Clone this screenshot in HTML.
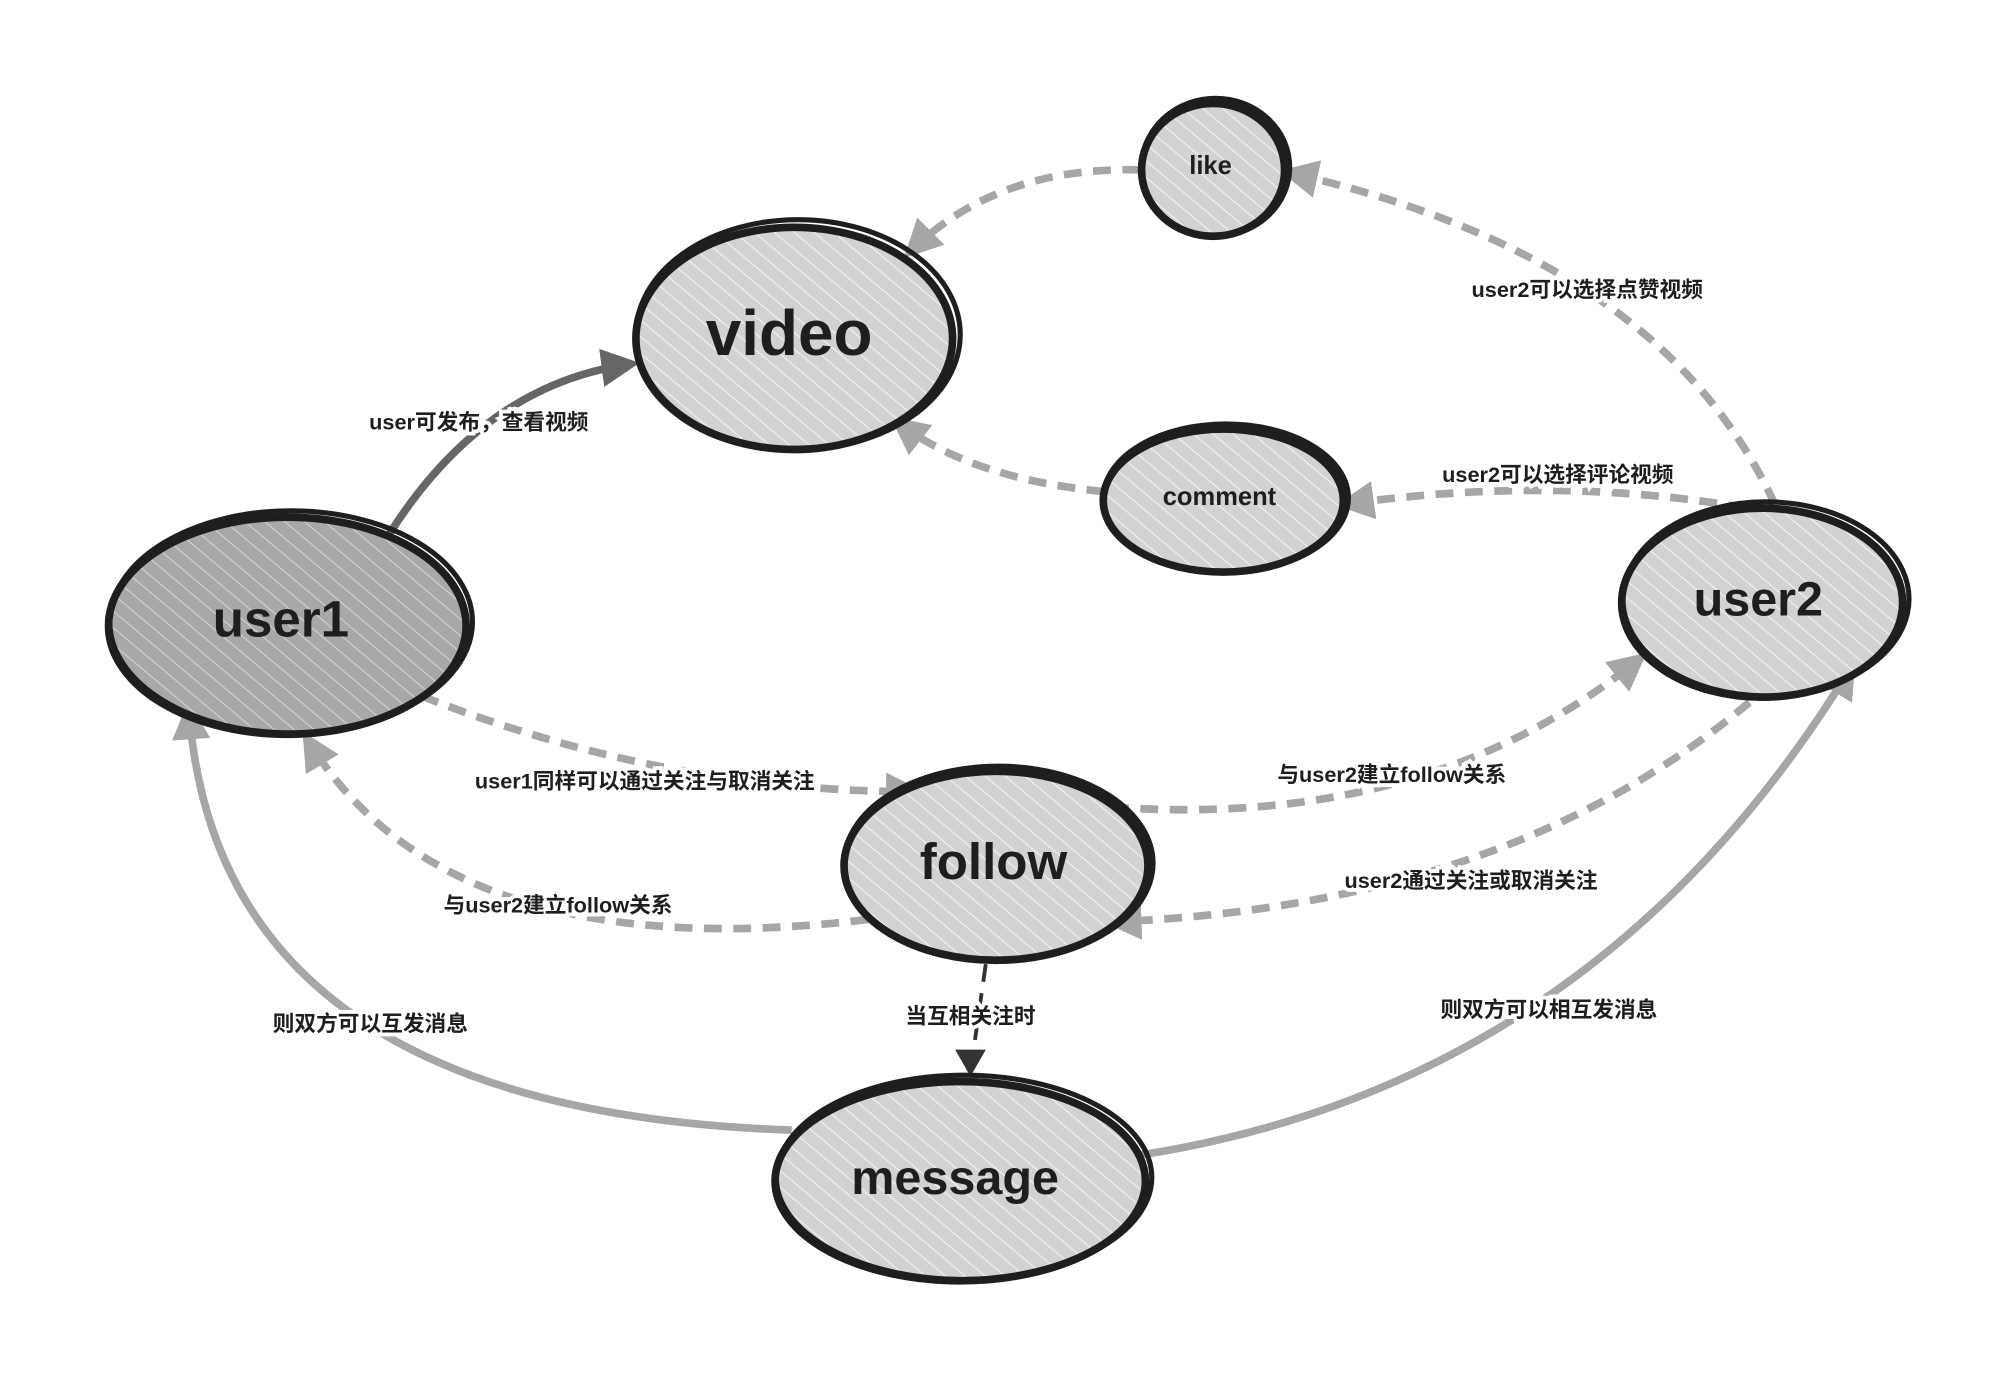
<!DOCTYPE html>
<html><head><meta charset="utf-8"><style>
html,body{margin:0;padding:0;background:#fff;}
svg{display:block}
text{font-family:"Liberation Sans","Noto Sans CJK SC",sans-serif;font-weight:bold;fill:#1e1e1e;text-anchor:middle;dominant-baseline:middle}
.lbl{font-size:17px;paint-order:stroke;stroke:#fff;stroke-width:6px}
</style></head><body>
<svg width="1992" height="1374" viewBox="0 0 1560 1076" preserveAspectRatio="none" xmlns="http://www.w3.org/2000/svg">
<defs>
<pattern id="h" width="10" height="10" patternUnits="userSpaceOnUse" patternTransform="rotate(-50)">
<rect width="10" height="10" fill="#d2d2d2"/><line x1="0" y1="0" x2="0" y2="10" stroke="#fff" stroke-width="1.5" opacity=".8"/></pattern>
<pattern id="hd" width="10" height="10" patternUnits="userSpaceOnUse" patternTransform="rotate(-50)">
<rect width="10" height="10" fill="#a8a8a8"/><line x1="0" y1="0" x2="0" y2="10" stroke="#d8d8d8" stroke-width="1.5"/></pattern>
<marker id="a1" viewBox="0 0 10 10" refX="8" refY="5" markerWidth="5" markerHeight="5" orient="auto"><path d="M0,0L10,5L0,10z" fill="#a6a6a6"/></marker>
<marker id="a2" viewBox="0 0 10 10" refX="8" refY="5" markerWidth="5" markerHeight="5" orient="auto"><path d="M0,0L10,5L0,10z" fill="#666"/></marker>
</defs>
<g fill="none" stroke-width="6">
<path d="M305,418 Q380,300 495,285" stroke="#666" marker-end="url(#a2)"/>
<g stroke="#a6a6a6" stroke-dasharray="14,9">
<path d="M893,133 Q780,130 712,198" marker-end="url(#a1)"/>
<path d="M1390,395 Q1300,200 1008,135" marker-end="url(#a1)"/>
<path d="M865,385 Q760,375 702,330" marker-end="url(#a1)"/>
<path d="M1390,402 Q1230,370 1052,395" marker-end="url(#a1)"/>
<path d="M330,545 Q520,620 718,620" marker-end="url(#a1)"/>
<path d="M680,720 Q350,760 240,578" marker-end="url(#a1)"/>
<path d="M870,632 Q1120,650 1285,515" marker-end="url(#a1)"/>
<path d="M1370,550 Q1180,710 870,722" marker-end="url(#a1)"/>
<path d="M772,755 L762,825" stroke="#333" stroke-width="3"/>
</g>
<path d="M748,822 L772,822 L760,843 z" fill="#333"/>
<g stroke="#a6a6a6">
<path d="M620,885 Q170,870 148,555" marker-end="url(#a1)"/>
<path d="M890,905 Q1250,850 1450,522" marker-end="url(#a1)"/>
</g>
</g>
<g stroke="#1e1e1e" stroke-width="6">
<ellipse cx="622" cy="265" rx="124" ry="87" fill="url(#h)"/>
<ellipse cx="950" cy="133" rx="56" ry="52" fill="url(#h)"/>
<ellipse cx="958" cy="392" rx="94" ry="56" fill="url(#h)"/>
<ellipse cx="225" cy="490" rx="140" ry="85" fill="url(#hd)"/>
<ellipse cx="1380" cy="472" rx="110" ry="74" fill="url(#h)"/>
<ellipse cx="780" cy="678" rx="119" ry="74" fill="url(#h)"/>
<ellipse cx="752" cy="925" rx="145" ry="78" fill="url(#h)"/>
</g>
<g fill="none" stroke="#1e1e1e" stroke-width="4">
<ellipse cx="625" cy="262" rx="127" ry="90"/>
<ellipse cx="952" cy="131" rx="58" ry="54"/>
<ellipse cx="960" cy="390" rx="96" ry="58"/>
<ellipse cx="228" cy="487" rx="142" ry="87"/>
<ellipse cx="1383" cy="469" rx="112" ry="76"/>
<ellipse cx="782" cy="676" rx="121" ry="76"/>
<ellipse cx="755" cy="922" rx="147" ry="80"/>
</g>
<text x="618" y="265" font-size="50">video</text>
<text x="948" y="131" font-size="20">like</text>
<text x="955" y="390" font-size="20">comment</text>
<text x="220" y="488" font-size="40">user1</text>
<text x="1377" y="472" font-size="38">user2</text>
<text x="778" y="678" font-size="40">follow</text>
<text x="748" y="925" font-size="38">message</text>
<text class="lbl" x="375" y="332">user可发布，查看视频</text>
<text class="lbl" x="1243" y="228">user2可以选择点赞视频</text>
<text class="lbl" x="1220" y="373">user2可以选择评论视频</text>
<text class="lbl" x="505" y="613">user1同样可以通过关注与取消关注</text>
<text class="lbl" x="437" y="710">与user2建立follow关系</text>
<text class="lbl" x="1090" y="608">与user2建立follow关系</text>
<text class="lbl" x="1152" y="691">user2通过关注或取消关注</text>
<text class="lbl" x="760" y="797" font-size="24">当互相关注时</text>
<text class="lbl" x="290" y="803">则双方可以互发消息</text>
<text class="lbl" x="1213" y="792">则双方可以相互发消息</text>
</svg>
</body></html>
